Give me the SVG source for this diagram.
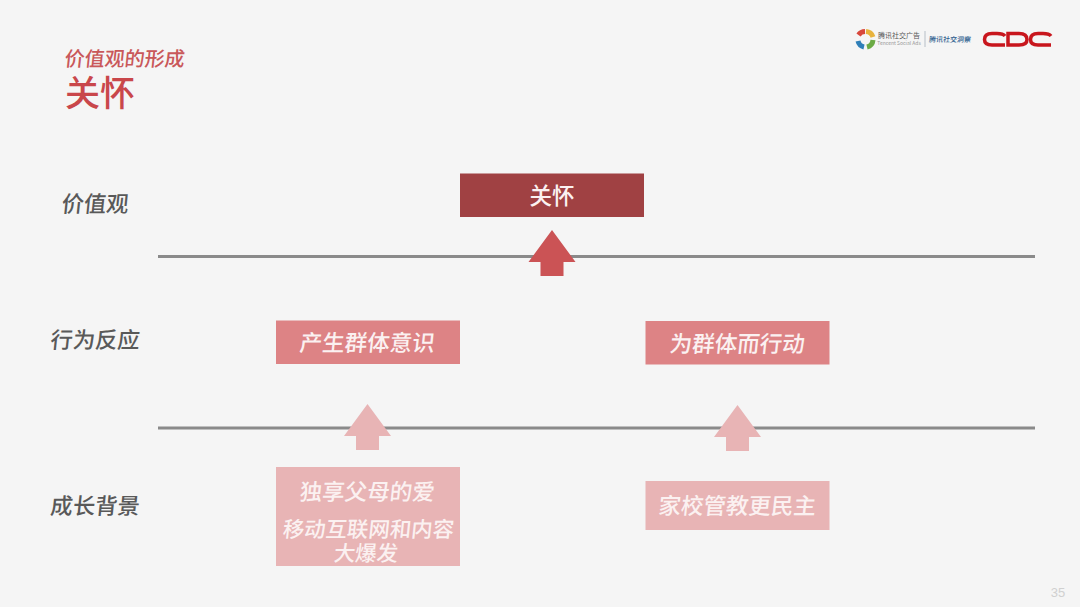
<svg xmlns="http://www.w3.org/2000/svg" width="1080" height="607" viewBox="0 0 1080 607">
<style>
text{font-family:"Noto Sans CJK SC","Noto Sans",sans-serif;text-anchor:middle}
.lab{font-size:22.300px;font-weight:500;fill:#595959}
.box{font-size:22.500px;font-weight:500;fill:#fbf1f1}
.it{transform-box:fill-box;transform-origin:center;transform:skewX(-6deg)}
.line{stroke:#8a8a8a;stroke-width:3;fill:none}
</style>
<defs><path id="up" d="M0 0L23.500 32H11.500V46H-11.500V32H-23.500Z"/></defs>
<rect width="1080" height="607" fill="#f5f5f5"/>
<g id="title">
<text x="125" y="66" font-size="20" font-weight="500" fill="#c9585a" class="it">价值观的形成</text>
<text x="100" y="106" font-size="35" font-weight="500" fill="#c9474b">关怀</text>
</g>
<g id="logos">
<g fill="none" stroke-width="5">
<path d="M858.500 35A8 8 0 0 1 865 31.500" stroke="#d8483c"/>
<path d="M866 31.500A8 8 0 0 1 873 37" stroke="#e8b33c"/>
<path d="M873 40A8 8 0 0 1 867 47" stroke="#6bab45"/>
<path d="M864 47A8 8 0 0 1 858 41" stroke="#2f7fb8"/>
</g>
<text x="899" y="37.500" font-size="7" fill="#555">腾讯社交广告</text>
<text x="899" y="45" font-size="5" fill="#999">Tencent Social Ads</text>
<rect x="924.500" y="31" width="1" height="16" fill="#b8c0c8"/>
<text x="950" y="42" font-size="7" font-weight="500" fill="#2f5f8f" class="it">腾讯社交洞察</text>
<g fill="none" stroke="#c8161d" stroke-width="3.500">
<path d="M1005 36Q1003 33.500 997 33.500H992Q984.500 33.500 984.500 39.500Q984.500 45 992 45H1005"/>
<path d="M1008 33.500H1019Q1027 33.500 1027 39.500Q1027 45 1019 45H1008Z"/>
<path d="M1051 36Q1049 33.500 1043 33.500H1038Q1030.500 33.500 1030.500 39.500Q1030.500 45 1038 45H1051"/>
</g>
</g>
<g id="connectors">
<path class="line" d="M158 256.500H1035"/>
<path class="line" d="M158 428H1035"/>
<use href="#up" x="552" y="230" fill="#cb5355"/>
<use href="#up" x="367.500" y="404" fill="#e8b4b5"/>
<use href="#up" x="737.500" y="405" fill="#e8b4b5"/>
</g>
<g id="row-labels">
<text class="lab it" x="95.500" y="212">价值观</text>
<text class="lab it" x="95.500" y="348">行为反应</text>
<text class="lab it" x="95.500" y="514">成长背景</text>
</g>
<g id="node-care"><rect x="460" y="173.500" width="184" height="43.500" fill="#a04143"/>
<text class="box" x="552" y="204">关怀</text></g>
<g id="node-group-awareness"><rect x="276" y="320.500" width="184" height="43.500" fill="#dd8385"/>
<text class="box it" x="367.500" y="351">产生群体意识</text></g>
<g id="node-group-action"><rect x="645.500" y="321" width="184" height="43.500" fill="#dd8385"/>
<text class="box it" x="737.500" y="352">为群体而行动</text></g>
<g id="node-background-left"><rect x="276" y="467" width="184" height="99" fill="#e8b4b5"/>
<text class="box it" x="367.500" y="500">独享父母的爱</text>
<text class="box it" x="367.500" y="537" style="font-size:21.400px">移动互联网和内容<tspan x="367.500" dy="24">大爆发</tspan></text></g>
<g id="node-background-right"><rect x="645.500" y="481" width="184" height="49" fill="#e8b4b5"/>
<text class="box it" x="737.500" y="514">家校管教更民主</text></g>
<text x="1058" y="597" font-size="13" fill="#d0d0d0" style="font-family:'Liberation Sans',sans-serif">35</text>
</svg>
